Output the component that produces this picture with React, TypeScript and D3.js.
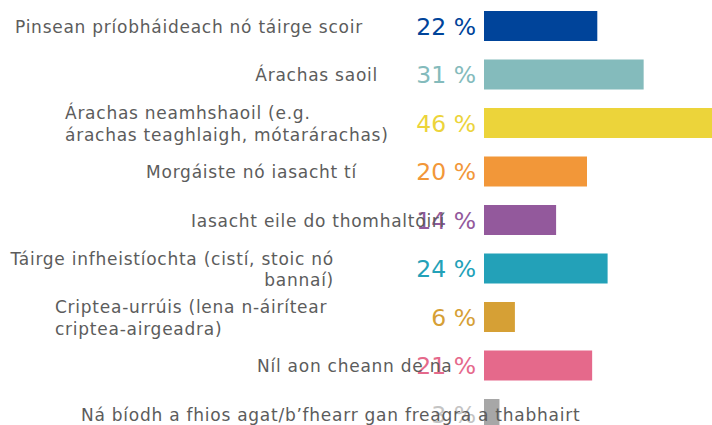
import React from "react";
import * as d3 from "d3";

const categories = [
  "Pinsean príobháideach nó táirge scoir",
  "Árachas saoil",
  "Árachas neamhshaoil (e.g.\nárachas teaghlaigh, mótarárachas)",
  "Morgáiste nó iasacht tí",
  "Iasacht eile do thomhaltóirí",
  "Táirge infheistíochta (cistí, stoic nó\nbannaí)",
  "Criptea-urrúis (lena n-áirítear\ncriptea-airgeadra)",
  "Níl aon cheann de na",
  "Ná bíodh a fhios agat/b’fhearr gan freagra a thabhairt",
];

const values = [22, 31, 46, 20, 14, 24, 6, 21, 3];
const valueLabels = ["22 %", "31 %", "46 %", "20 %", "14 %", "24 %", "6 %", "21 %", "3 %"];

const barColors = ["#00449a", "#84bbbc", "#ecd43a", "#f29739", "#93599c", "#23a1b8", "#d6a035", "#e5698b", "#a7a7a7"];
const valueColors = ["#00449a", "#84bbbc", "#ecd43a", "#f29739", "#93599c", "#23a1b8", "#d6a035", "#e5698b", "#c4c4c4"];

// label layout: [anchor, x]
const labelLayout: [string, number][] = [
  ["start", 15],
  ["end", 378],
  ["start", 65],
  ["end", 357],
  ["start", 191],
  ["end", 334],
  ["start", 55],
  ["start", 257],
  ["start", 81],
];

const W = 712;
const H = 425;

export default function App() {
  const x = d3.scaleLinear().domain([0, 100]).range([484, 999]);
  const y = d3
    .scaleBand<string>()
    .domain(categories)
    .range([1.75, 438.25])
    .paddingInner(0.3814)
    .paddingOuter(0.1907);
  const bw = y.bandwidth();
  const lineH = 21.5;

  return (
    <div style={{ position: "fixed", left: 0, top: 0, width: W, height: H, background: "#fff" }}>
      <svg width={W} height={H} style={{ display: "block" }}>
        <g>
          {categories.map((c, i) => (
            <rect
              key={"b" + i}
              x={x(0)}
              y={y(c)}
              width={Math.min(x(values[i]), W) - x(0)}
              height={bw}
              fill={barColors[i]}
            />
          ))}
        </g>
        <g>
          {categories.map((c, i) => (
            <text
              key={"v" + i}
              x={476}
              y={(y(c) as number) + bw / 2 + 8.6}
              textAnchor="end"
              fontFamily="'DejaVu Sans', Verdana, sans-serif"
              fontSize={23.5}
              fill={valueColors[i]}
            >
              {valueLabels[i]}
            </text>
          ))}
        </g>
        <g>
          {categories.map((c, i) => {
            const lines = c.split("\n");
            const cy = (y(c) as number) + bw / 2 + 1;
            const first = cy - ((lines.length - 1) * lineH) / 2 + 5.8;
            const [anchor, lx] = labelLayout[i];
            return (
              <text
                key={"l" + i}
                textAnchor={anchor as any}
                fontFamily="'DejaVu Sans', Verdana, sans-serif"
                fontSize={17}
                letterSpacing={0.75}
                fill="#5c5c5c"
              >
                {lines.map((ln, j) => (
                  <tspan key={j} x={lx} y={first + j * lineH}>
                    {ln}
                  </tspan>
                ))}
              </text>
            );
          })}
        </g>
      </svg>
    </div>
  );
}
